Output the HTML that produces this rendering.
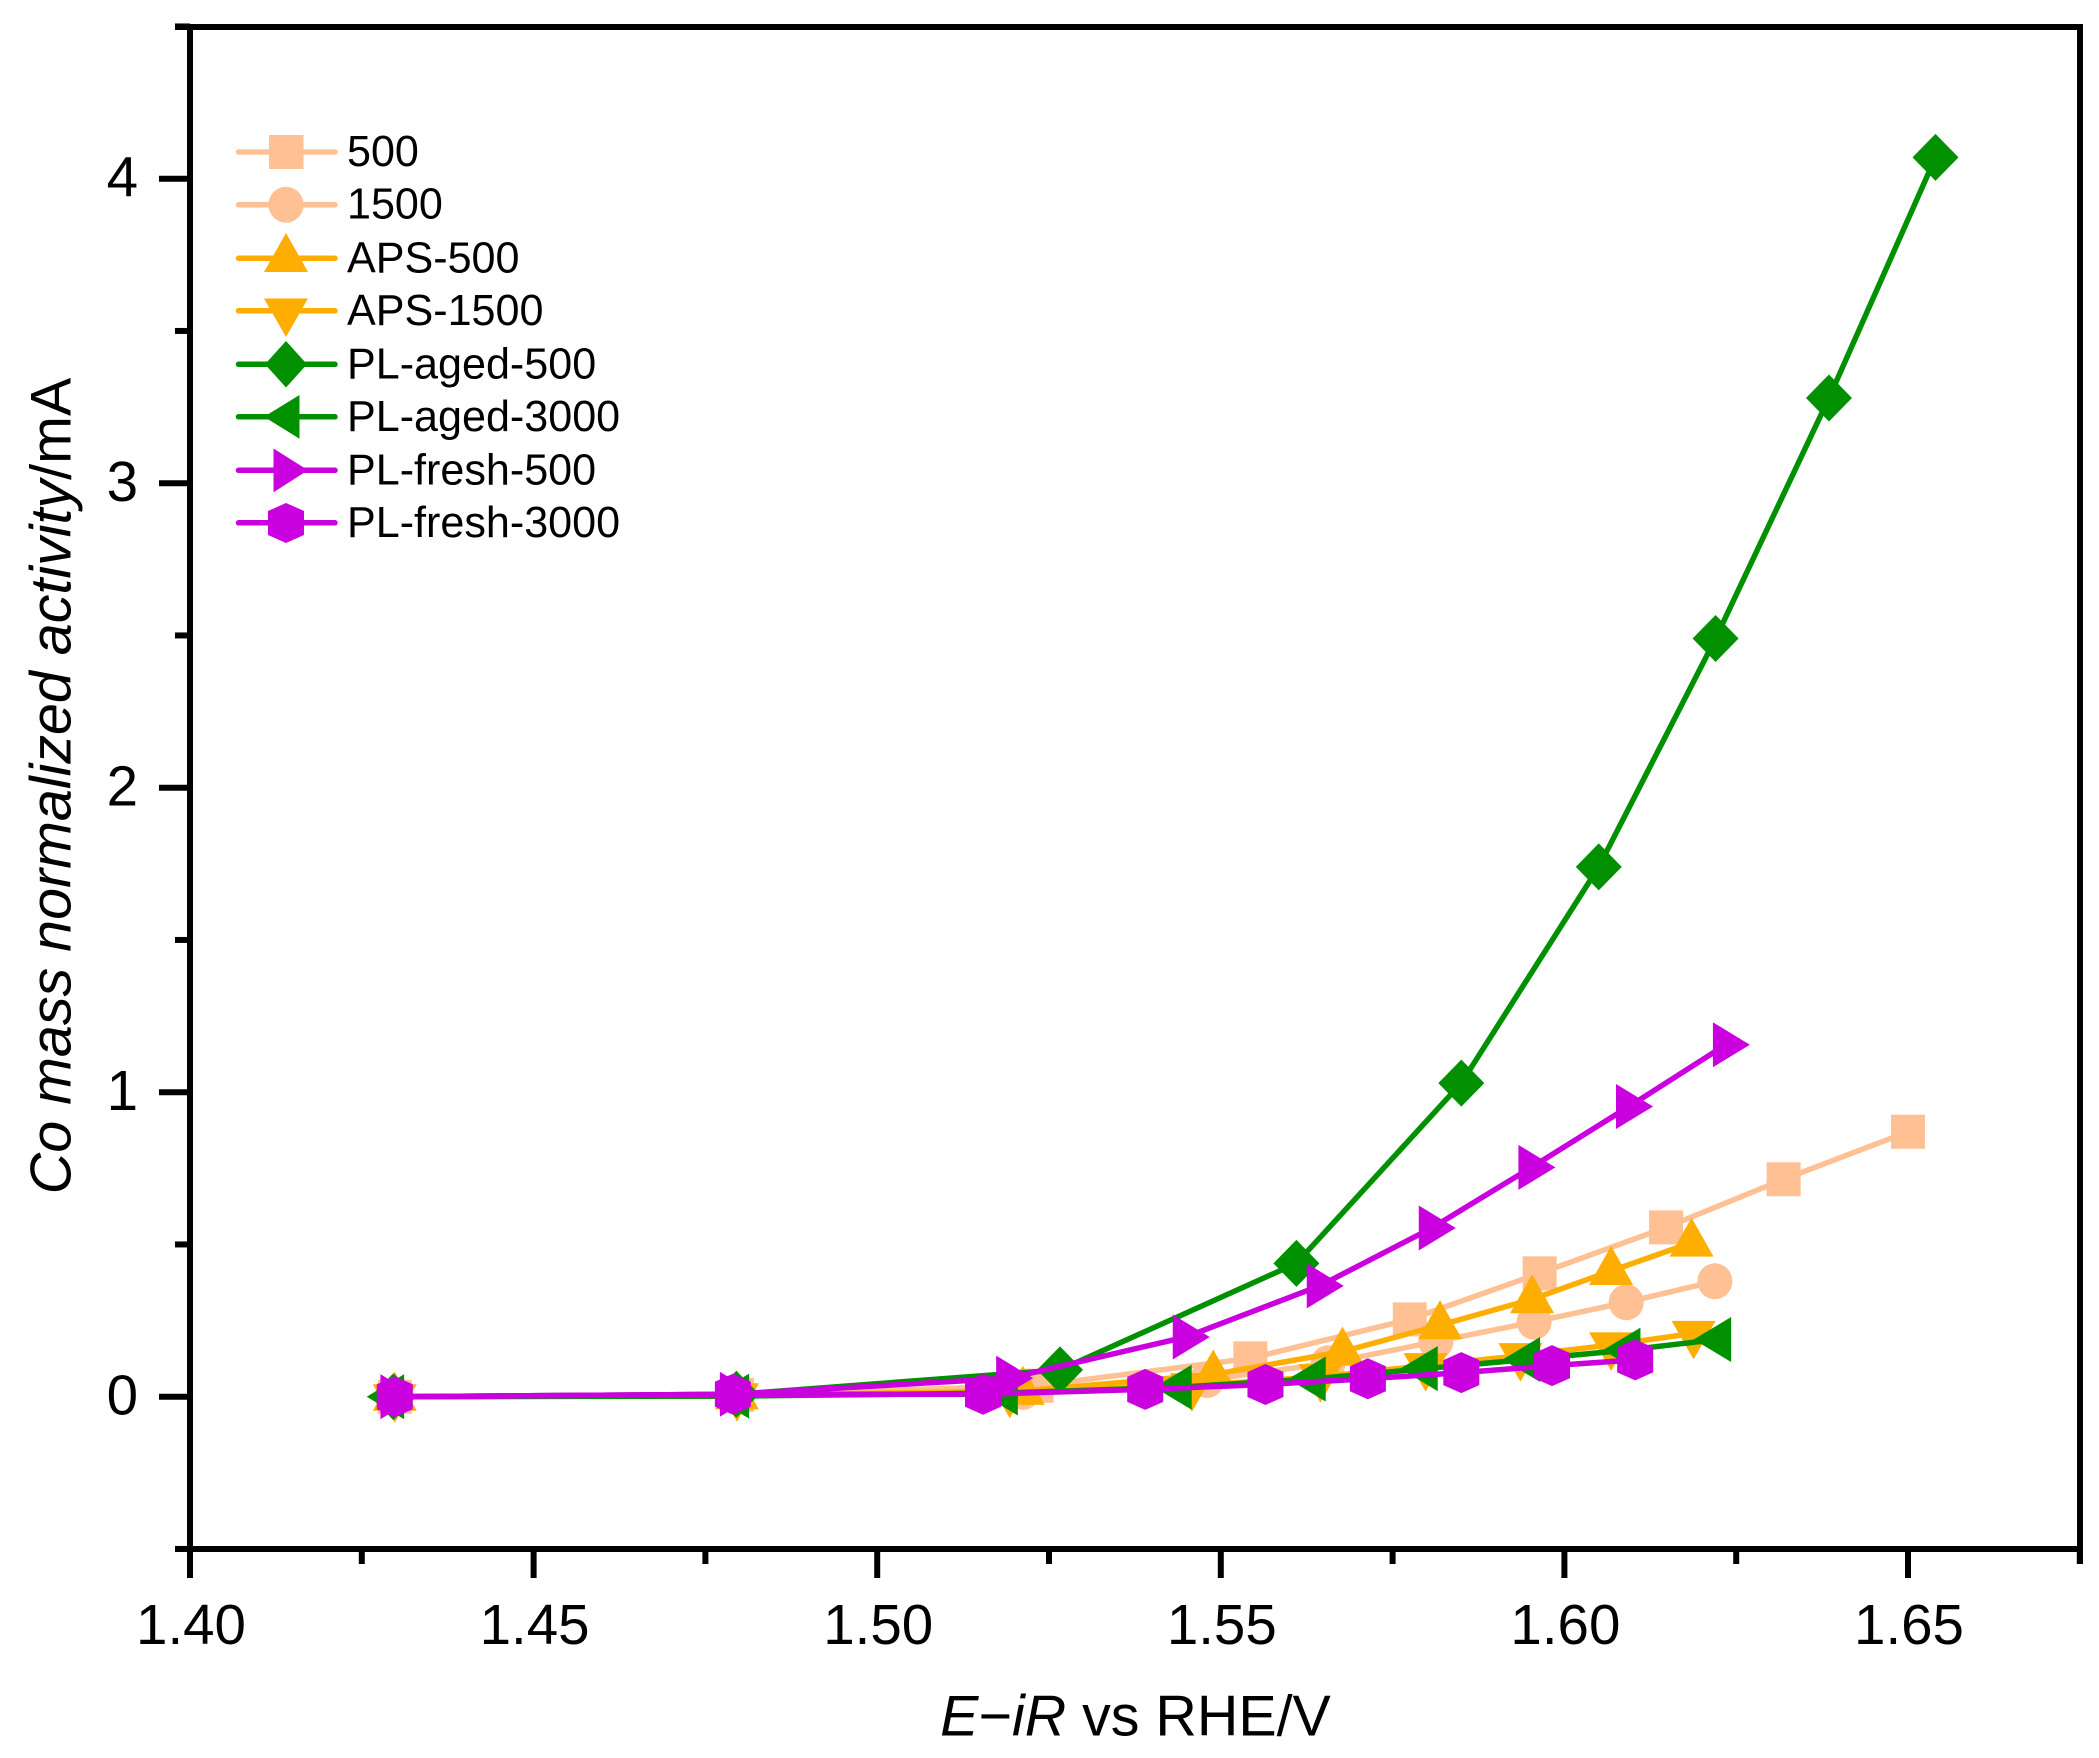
<!DOCTYPE html>
<html lang="en">
<head>
<meta charset="utf-8">
<title>Co mass normalized activity chart</title>
<style>
html,body{margin:0;padding:0;background:#fff;}
svg{display:block;}
text{font-family:"Liberation Sans",Arial,sans-serif;fill:#000;}
</style>
</head>
<body>
<svg id="chart" xmlns="http://www.w3.org/2000/svg" width="2099" height="1758" viewBox="0 0 2099 1758">
  <rect x="0" y="0" width="2099" height="1758" fill="#fff"/>
  <g id="ticks"></g>
  <g id="frame" stroke="#000" stroke-width="6" fill="none">
    <line x1="190" y1="24" x2="190" y2="1578"/>
    <line x1="2080" y1="24" x2="2080" y2="1564"/>
    <line x1="175" y1="27" x2="2083" y2="27"/>
    <line x1="175" y1="1549" x2="2083" y2="1549"/>
  </g>
  <g id="series"></g>

  <text x="1135.5" y="1735.5" font-size="57.4" text-anchor="middle"><tspan font-style="italic">E</tspan>−<tspan font-style="italic">iR</tspan> vs RHE/V</text>
  <text transform="translate(70.5,786) rotate(-90)" font-size="57.4" text-anchor="middle"><tspan font-style="italic">Co mass normalized activity</tspan>/mA</text>

  <g font-size="43.1">
    <g>
      <line x1="238.5" y1="152" x2="335" y2="152" stroke="#FFC093" stroke-width="5.5" stroke-linecap="round"/>
      <rect x="269" y="135" width="34.5" height="34" fill="#FFC093"/>
      <text x="347" y="166">500</text>
    </g>
    <g>
      <line x1="238.5" y1="204.7" x2="335" y2="204.7" stroke="#FFC093" stroke-width="5.5" stroke-linecap="round"/>
      <ellipse cx="286" cy="204.7" rx="17.5" ry="18" fill="#FFC093"/>
      <text x="347" y="218.7">1500</text>
    </g>
    <g>
      <line x1="238.5" y1="258.3" x2="335" y2="258.3" stroke="#FDAE00" stroke-width="5.5" stroke-linecap="round"/>
      <polygon points="286,233 308,272 264,272" fill="#FDAE00"/>
      <text x="347" y="272.3">APS-500</text>
    </g>
    <g>
      <line x1="238.5" y1="310.8" x2="335" y2="310.8" stroke="#FDAE00" stroke-width="5.5" stroke-linecap="round"/>
      <polygon points="286,337 308,298.5 264,298.5" fill="#FDAE00"/>
      <text x="347" y="324.8">APS-1500</text>
    </g>
    <g>
      <line x1="238.5" y1="364.3" x2="335" y2="364.3" stroke="#009000" stroke-width="5.5" stroke-linecap="round"/>
      <polygon points="286,341 307,364.3 286,387.5 265,364.3" fill="#009000"/>
      <text x="347" y="378.3">PL-aged-500</text>
    </g>
    <g>
      <line x1="238.5" y1="416.8" x2="335" y2="416.8" stroke="#009000" stroke-width="5.5" stroke-linecap="round"/>
      <polygon points="264,416.8 299.5,395 299.5,438.8" fill="#009000"/>
      <text x="347" y="430.8">PL-aged-3000</text>
    </g>
    <g>
      <line x1="238.5" y1="470.3" x2="335" y2="470.3" stroke="#CA00DE" stroke-width="5.5" stroke-linecap="round"/>
      <polygon points="308,470.3 273.5,448.5 273.5,492.3" fill="#CA00DE"/>
      <text x="347" y="484.3">PL-fresh-500</text>
    </g>
    <g>
      <line x1="238.5" y1="522.8" x2="335" y2="522.8" stroke="#CA00DE" stroke-width="5.5" stroke-linecap="round"/>
      <polygon points="286,503 304,511 304,535 286,543 268,535 268,511" fill="#CA00DE"/>
      <text x="347" y="536.8">PL-fresh-3000</text>
    </g>
  </g>
</svg>
<script>
const xMajorTicks = [1.40, 1.45, 1.50, 1.55, 1.60, 1.65];
const xMajorLabels = ["1.40", "1.45", "1.50", "1.55", "1.60", "1.65"];
const xMinorTicks = [1.425, 1.475, 1.525, 1.575, 1.625, 1.675];
const yMajorTicks = [0, 1, 2, 3, 4];
const yMajorLabels = ["0", "1", "2", "3", "4"];
const yMinorTicks = [-0.5, 0.5, 1.5, 2.5, 3.5, 4.5];

const s500X = [1.4298, 1.4796, 1.5232, 1.5543, 1.5775, 1.5964, 1.6148, 1.6319, 1.65];
const s500Y = [0, 0.006, 0.036, 0.126, 0.254, 0.405, 0.556, 0.714, 0.87];
const s1500X = [1.4298, 1.4796, 1.5212, 1.548, 1.5656, 1.5813, 1.5956, 1.609, 1.6219];
const s1500Y = [0, 0.005, 0.016, 0.055, 0.11, 0.181, 0.246, 0.31, 0.379];
const aps500X = [1.4298, 1.4796, 1.5212, 1.5489, 1.5677, 1.5819, 1.5953, 1.6068, 1.6185];
const aps500Y = [0, 0.004, 0.019, 0.073, 0.148, 0.235, 0.32, 0.413, 0.506];
const aps1500X = [1.4298, 1.4796, 1.5193, 1.5458, 1.5645, 1.5798, 1.5936, 1.6068, 1.6188];
const aps1500Y = [0, 0.003, 0.014, 0.036, 0.066, 0.102, 0.135, 0.17, 0.208];
const aged500X = [1.4296, 1.4795, 1.5266, 1.561, 1.585, 1.605, 1.622, 1.6385, 1.654];
const aged500Y = [0, 0.008, 0.088, 0.438, 1.03, 1.74, 2.49, 3.28, 4.07];
const aged3000X = [1.4292, 1.4794, 1.5185, 1.5438, 1.5633, 1.5796, 1.5945, 1.6091, 1.6223];
const aged3000Y = [0, 0.002, 0.012, 0.031, 0.058, 0.092, 0.122, 0.153, 0.188];
const fresh500X = [1.4296, 1.479, 1.5192, 1.5449, 1.5644, 1.5807, 1.5952, 1.6094, 1.6235];
const fresh500Y = [0, 0.008, 0.061, 0.196, 0.364, 0.554, 0.753, 0.953, 1.156];
const fresh3000X = [1.4298, 1.479, 1.5154, 1.539, 1.5565, 1.5714, 1.585, 1.5982, 1.6103];
const fresh3000Y = [0, 0.008, 0.008, 0.024, 0.04, 0.059, 0.079, 0.102, 0.121];

const seriesNames = ["500", "1500", "aps-500", "aps-1500", "pl-aged-500", "pl-aged-3000", "pl-fresh-500", "pl-fresh-3000"];
const seriesX = [s500X, s1500X, aps500X, aps1500X, aged500X, aged3000X, fresh500X, fresh3000X];
const seriesY = [s500Y, s1500Y, aps500Y, aps1500Y, aged500Y, aged3000Y, fresh500Y, fresh3000Y];
const seriesColors = ["#FFC093", "#FFC093", "#FDAE00", "#FDAE00", "#009000", "#009000", "#CA00DE", "#CA00DE"];
const seriesShapes = ["square", "circle", "up", "down", "diamond", "left", "right", "hexagon"];

const NS = "http://www.w3.org/2000/svg";
function xScale(v) { return 190 + (v - 1.40) * 6872; }
function yScale(v) { return 1396.7 - 304.5 * v; }

function make(tag, parent, attrs) {
  const el = document.createElementNS(NS, tag);
  for (const k in attrs) el.setAttribute(k, attrs[k]);
  parent.appendChild(el);
  return el;
}

const shapeOutlines = {
  square: [[-17, -17], [17, -17], [17, 17], [-17, 17]],
  up: [[0, -25], [22, 14], [-22, 14]],
  down: [[0, 26], [22, -12.5], [-22, -12.5]],
  diamond: [[0, -23.5], [23, 0], [0, 23.5], [-23, 0]],
  left: [[-24, 0], [13.5, -22.5], [13.5, 22.5]],
  right: [[24, 0], [-13, -22.5], [-13, 22.5]],
  hexagon: [[0, -20.5], [18, -12.5], [18, 12.5], [0, 20.5], [-18, 12.5], [-18, -12.5]]
};

const ticksGroup = document.getElementById("ticks");
xMajorTicks.forEach(function (v, i) {
  const tick = make("line", ticksGroup, { x1: xScale(v), x2: xScale(v), y1: 1549, y2: 1578, stroke: "#000", "stroke-width": 6 });
  
  
  const label = make("text", ticksGroup, { x: xScale(v) + 1, y: 1644, "font-size": 56.5, "text-anchor": "middle" });
  label.textContent = xMajorLabels[i];
  
  
});
xMinorTicks.forEach(function (v) {
  const tick = make("line", ticksGroup, { x1: xScale(v), x2: xScale(v), y1: 1549, y2: 1564, stroke: "#000", "stroke-width": 6 });
  
  
});
yMajorTicks.forEach(function (v, i) {
  const tick = make("line", ticksGroup, { x1: 159, x2: 190, y1: yScale(v), y2: yScale(v), stroke: "#000", "stroke-width": 6 });
  
  
  const label = make("text", ticksGroup, { x: 138, y: yScale(v) + 18, "font-size": 56.5, "text-anchor": "end" });
  label.textContent = yMajorLabels[i];
  
  
});
yMinorTicks.forEach(function (v) {
  const tick = make("line", ticksGroup, { x1: 175, x2: 190, y1: yScale(v), y2: yScale(v), stroke: "#000", "stroke-width": 6 });
  
  
});

const seriesGroup = document.getElementById("series");
seriesNames.forEach(function (name, s) {
  const group = make("g", seriesGroup, {});
  
  
  const xs = seriesX[s];
  const ys = seriesY[s];
  const color = seriesColors[s];
  const pts = xs.map(function (x, i) { return xScale(x) + "," + yScale(ys[i]); }).join(" ");
  const line = make("polyline", group, { points: pts, fill: "none", stroke: color, "stroke-width": 5.5, "stroke-linejoin": "round" });
  
  
  xs.forEach(function (x, i) {
    const cx = xScale(x);
    const cy = yScale(ys[i]);
    let marker;
    if (seriesShapes[s] === "circle") {
      marker = make("ellipse", group, { cx: cx, cy: cy, rx: 17.5, ry: 18, fill: color });
    } else {
      const p = shapeOutlines[seriesShapes[s]].map(function (o) { return (cx + o[0]) + "," + (cy + o[1]); }).join(" ");
      marker = make("polygon", group, { points: p, fill: color });
    }
    
    
  });
});
</script>
</body>
</html>
